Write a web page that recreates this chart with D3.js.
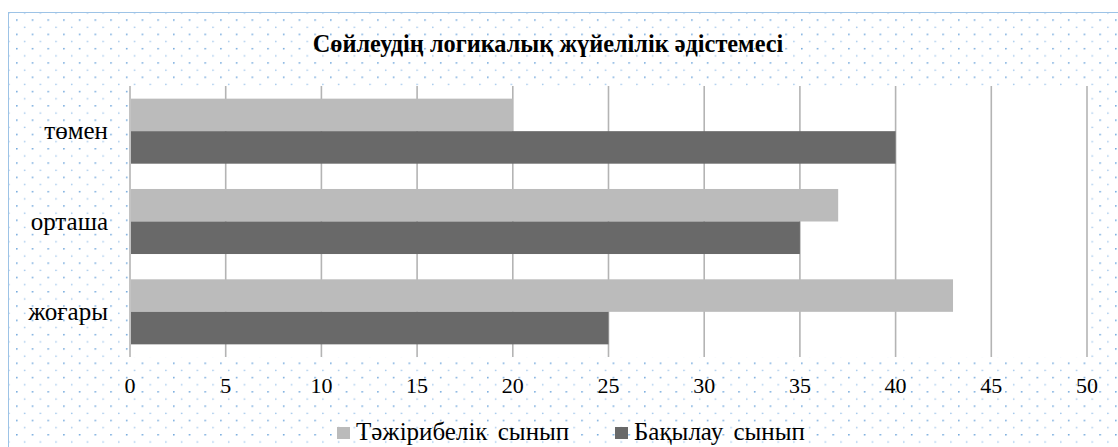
<!DOCTYPE html>
<html>
<head>
<meta charset="utf-8">
<script src="https://cdn.jsdelivr.net/npm/d3@7"></script>
</head>
<body style="margin:0;background:#fff">
<div id="vis"></div>
<script>
// Data
const categories = ["төмен", "орташа", "жоғары"];
const seriesNames = ["Тәжірибелік сынып", "Бақылау сынып"];
const experimental = [20, 37, 43];
const control = [40, 35, 25];
const xTicks = [0, 5, 10, 15, 20, 25, 30, 35, 40, 45, 50];
const title = "Сөйлеудің логикалық жүйелілік әдістемесі";

const colors = { "Тәжірибелік сынып": "#bbbbbb", "Бақылау сынып": "#696969" };
const valuesBySeries = { "Тәжірибелік сынып": experimental, "Бақылау сынып": control };

const FONT = '"Liberation Serif", "Times New Roman", serif';
const W = 1118, H = 447;
const plot = { left: 130, right: 1087, top: 86, bottom: 357 };

const svg = d3.select("#vis").append("svg")
  .attr("width", W)
  .attr("height", H)
  .attr("font-family", FONT)
  .style("display", "block");

// dotted chart-area fill
const defs = svg.append("defs");
const pat = defs.append("pattern")
  .attr("id", "dots")
  .attr("patternUnits", "userSpaceOnUse")
  .attr("width", 15.7)
  .attr("height", 14.3)
  .attr("patternTransform", "translate(0.3,5)");
pat.append("circle").attr("cx", 0.8).attr("cy", 0.8).attr("r", 0.9).attr("fill", "#6fa6dc");
pat.append("circle").attr("cx", 8.65).attr("cy", 7.95).attr("r", 0.8).attr("fill", "#9cc4ea");

svg.append("rect")
  .attr("x", 8.5).attr("y", 12.5)
  .attr("width", W).attr("height", H)
  .attr("fill", "url(#dots)")
  .attr("stroke", "#9dc3e6")
  .attr("stroke-width", 1);

// plot area
svg.append("rect")
  .attr("x", plot.left).attr("y", plot.top)
  .attr("width", plot.right - plot.left)
  .attr("height", plot.bottom - plot.top)
  .attr("fill", "#fff");

// scales
const x = d3.scaleLinear()
  .domain([0, 50])
  .range([plot.left, plot.right]);

const y = d3.scaleBand()
  .domain(categories)
  .range([plot.top, plot.bottom])
  .paddingInner(0.28)
  .paddingOuter(0.14);

const ySub = d3.scaleBand()
  .domain(seriesNames)
  .range([0, y.bandwidth()]);

// gridlines
svg.append("g")
  .selectAll("line")
  .data(xTicks)
  .join("line")
  .attr("x1", d => x(d))
  .attr("x2", d => x(d))
  .attr("y1", plot.top)
  .attr("y2", plot.bottom)
  .attr("stroke", "#b4b4b4")
  .attr("stroke-width", 1.6);

// bars
const rows = categories.flatMap((c, i) =>
  seriesNames.map(s => ({ cat: c, series: s, value: valuesBySeries[s][i] })));

svg.append("g")
  .selectAll("rect")
  .data(rows)
  .join("rect")
  .attr("x", x(0) + 1)
  .attr("y", d => y(d.cat) + ySub(d.series))
  .attr("width", d => x(d.value) - x(0) - 1)
  .attr("height", ySub.bandwidth())
  .attr("fill", d => colors[d.series]);

// value labels under the plot
svg.append("g")
  .selectAll("text")
  .data(xTicks)
  .join("text")
  .attr("x", d => x(d))
  .attr("y", 393)
  .attr("text-anchor", "middle")
  .attr("font-family", FONT)
  .attr("font-size", 22)
  .attr("fill", "#000")
  .text(d => d);

// category labels
svg.append("g")
  .selectAll("text")
  .data(categories)
  .join("text")
  .attr("x", plot.left - 22)
  .attr("y", d => y(d) + y.bandwidth() / 2)
  .attr("dy", "0.33em")
  .attr("text-anchor", "end")
  .attr("font-family", FONT)
  .attr("font-size", 25)
  .attr("fill", "#000")
  .text(d => d);

// title
svg.append("text")
  .attr("x", 548)
  .attr("y", 52)
  .attr("text-anchor", "middle")
  .attr("font-family", FONT)
  .attr("font-size", 24.3)
  .attr("font-weight", "bold")
  .text(title);

// legend
const legendX = { "Тәжірибелік сынып": 337, "Бақылау сынып": 615 };
const legend = svg.append("g")
  .selectAll("g")
  .data(seriesNames)
  .join("g")
  .attr("transform", d => `translate(${legendX[d]},0)`);
legend.append("rect")
  .attr("y", 427)
  .attr("width", 13)
  .attr("height", 12)
  .attr("fill", d => colors[d]);
legend.append("text")
  .attr("x", 19)
  .attr("y", 440)
  .attr("font-family", FONT)
  .attr("font-size", 25)
  .style("word-spacing", "4px")
  .text(d => d);
</script>
</body>
</html>
